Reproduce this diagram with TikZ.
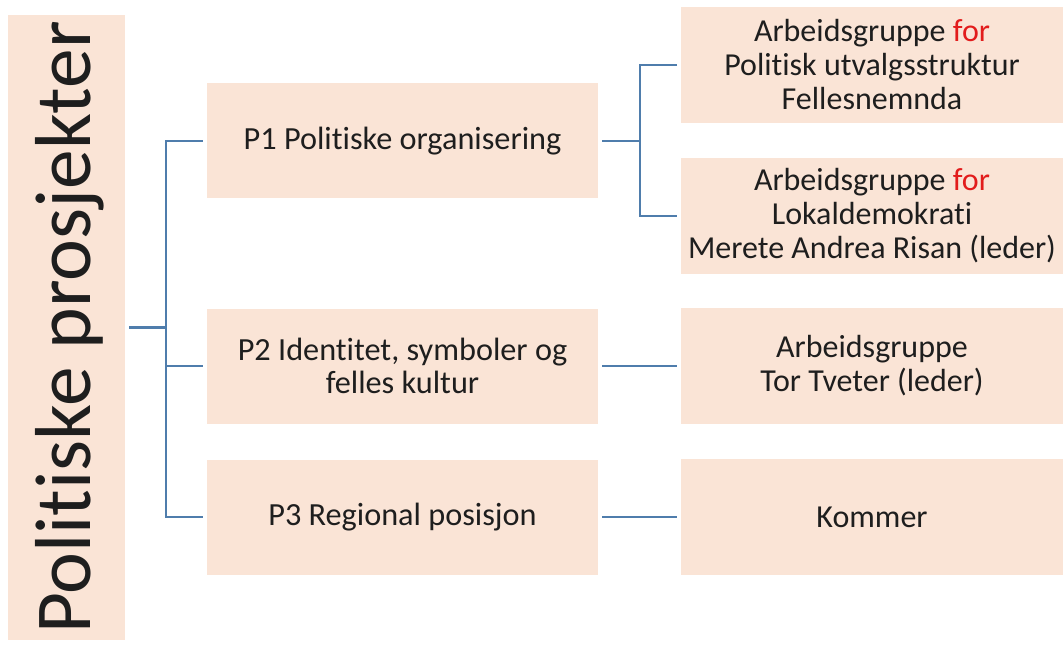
\documentclass[tikz,border=0pt]{standalone}
\usepackage{fontspec}
\setmainfont{Carlito}[Ligatures=NoCommon]
\definecolor{boxfill}{RGB}{250,228,214}
\definecolor{connblue}{RGB}{79,125,172}
\definecolor{txt}{RGB}{30,30,30}
\definecolor{redword}{RGB}{226,28,28}
\begin{document}
\begin{tikzpicture}[x=0.75pt,y=-0.75pt,
  midbox/.style={fill=boxfill, minimum width=293.25pt, minimum height=86.25pt, inner sep=0pt, outer sep=3.2pt, align=center, text=txt, font=\fontsize{24.2pt}{24.5pt}\selectfont},
  rightbox/.style={fill=boxfill, minimum width=286.5pt, minimum height=87pt, inner sep=0pt, outer sep=3pt, align=center, text=txt, font=\fontsize{24pt}{25.5pt}\selectfont},
  rootbox/.style={fill=boxfill, minimum width=87.75pt, minimum height=468.75pt, inner sep=0pt, outer sep=3pt},
  conn/.style={draw=connblue, line width=1.6pt}]
\useasboundingbox (0,0) rectangle (1063,645);
% root
\node[rootbox] (root) at (66.5,327.5) {};
\node[rotate=90, anchor=base, text=txt, inner sep=0pt, font=\fontsize{59.5pt}{66pt}\selectfont] (roottext) at (90,327.5) {Politiske prosjekter};
% middle boxes
\node[midbox] (p1) at (402.5,141) {P1 Politiske organisering};
\node[midbox] (p2) at (402.5,366) {P2 Identitet, symboler og\\felles kultur};
\node[midbox] (p3) at (402.5,517) {P3 Regional posisjon};
% right boxes
\node[rightbox] (a1) at (872,65) {Arbeidsgruppe \textcolor{redword}{for}\\Politisk utvalgsstruktur\\Fellesnemnda};
\node[rightbox] (a2) at (872,216) {Arbeidsgruppe \textcolor{redword}{for}\\Lokaldemokrati\\Merete Andrea Risan (leder)};
\node[rightbox] (a3) at (872,366) {Arbeidsgruppe\\Tor Tveter (leder)};
\node[rightbox] (a4) at (872,517) {Kommer};
% junction coordinates
\coordinate (tr) at (166,327.5);
\coordinate (s1) at (640,141);
% connectors
\draw[conn] (root.east) -- (tr);
\draw[conn] (p1.west) -| (tr) |- (p3.west);
\draw[conn] (p2.west) -- (p2.west -| tr);
\draw[conn] (p1.east) -- (s1);
\draw[conn] (a1.west) -| (s1) |- (a2.west);
\draw[conn] (p2.east) -- (a3.west);
\draw[conn] (p3.east) -- (a4.west);
\end{tikzpicture}
\end{document}
